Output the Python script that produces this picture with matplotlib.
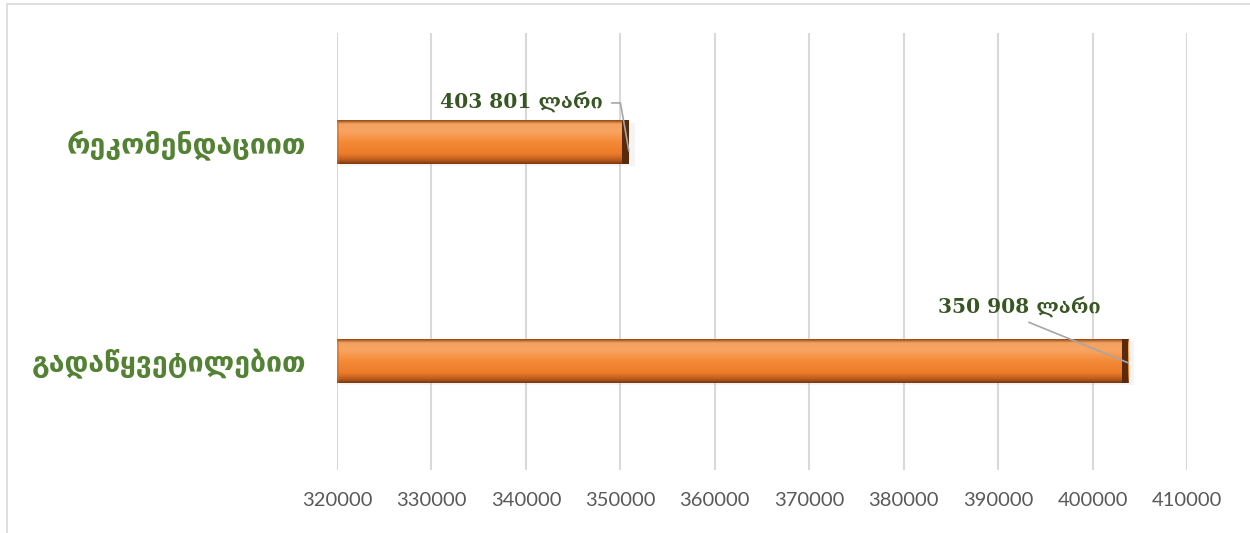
import matplotlib.pyplot as plt
import numpy as np
from matplotlib.colors import LinearSegmentedColormap
from matplotlib.patches import Rectangle

# bar values (GEL) and the labels printed next to them
CATEGORIES = ['გადაწყვეტილებით', 'რეკომენდაციით']
VALUES = [403801, 350908]
VALUE_LABELS = ['350 908 ლარი', '403 801 ლარი']
XTICKS = [320000, 330000, 340000, 350000, 360000, 370000, 380000, 390000, 400000, 410000]

plt.rcParams['font.family'] = ['DejaVu Sans']

# orange cylinder look: dark rim, light highlight, darker underside
bar_cmap = LinearSegmentedColormap.from_list('bar', [
    (0.00, '#9a4a16'),
    (0.08, '#f3a25f'),
    (0.25, '#f9a462'),
    (0.50, '#f58a36'),
    (0.78, '#ea7b2a'),
    (0.92, '#b8591c'),
    (1.00, '#7a3a12'),
])


def draw_chart():
    fig = plt.figure(figsize=(12.5, 5.33), dpi=100)
    ax = fig.add_axes([0.2696, 0.1182, 0.68, 0.82])

    # thin frame of the chart area
    fig.patches.append(Rectangle((0.0056, -0.02), 1.1, 0.9925 + 0.02, transform=fig.transFigure,
                                 fill=False, edgecolor='#d9d9d9', linewidth=1.2))

    ypos = np.arange(len(CATEGORIES))
    height = 0.2
    ax.set_xlim(XTICKS[0], XTICKS[-1])
    ax.set_ylim(-0.5, 1.5)

    grad = np.linspace(0, 1, 64).reshape(-1, 1)
    for y, v in zip(ypos, VALUES):
        bar = ax.barh(y, v - XTICKS[0], left=XTICKS[0], height=height,
                      color='none', edgecolor='none', zorder=3)[0]
        # soft shadow to the right/below
        ax.add_patch(Rectangle((XTICKS[0] + 300, y - height / 2 - 0.01), v - XTICKS[0] + 300, height,
                               facecolor='#bbbbbb', alpha=0.15, edgecolor='none', zorder=2))
        im = ax.imshow(grad, cmap=bar_cmap, aspect='auto', zorder=3,
                       extent=(XTICKS[0], v, y - height / 2, y + height / 2), origin='upper')
        im.set_clip_path(bar)
        # dark end cap
        ax.add_patch(Rectangle((v - 700, y - height / 2), 700, height,
                               facecolor='#5a2a0c', edgecolor='none', zorder=4))
        ax.add_patch(Rectangle((XTICKS[0], y - height / 2), 250, height,
                               facecolor='#c96a25', alpha=0.5, edgecolor='none', zorder=4))

    ax.set_xticks(XTICKS)
    ax.set_xticklabels([str(t) for t in XTICKS], fontsize=14.5, color='#595959',
                       family=['Lato', 'DejaVu Sans'])
    ax.tick_params(axis='x', length=0, pad=16)
    ax.set_yticks(ypos)
    ax.set_yticklabels(CATEGORIES, fontsize=20.5, fontweight='bold', color='#548235',
                       family=['DejaVu Sans'])
    ax.tick_params(axis='y', length=0, pad=22)
    ax.grid(axis='x', color='#d9d9d9', linewidth=1.5, zorder=0)
    ax.set_axisbelow(True)
    for s in ax.spines.values():
        s.set_visible(False)

    # value labels with leader lines
    ax.annotate(VALUE_LABELS[0], xy=(VALUES[0], ypos[0] - 0.01), xytext=(-109, 55),
                textcoords='offset pixels', ha='center', va='center', zorder=6,
                fontsize=14.5, fontweight='bold', color='#375623',
                family=['DejaVu Serif', 'DejaVu Sans'],
                arrowprops=dict(arrowstyle='-', color='#a6a6a6', lw=1.2,
                                relpos=(0.5, 0), shrinkA=2, shrinkB=0))
    ax.annotate(VALUE_LABELS[1], xy=(VALUES[1], ypos[1] - 0.04), xytext=(-107, 48),
                textcoords='offset pixels', ha='center', va='center', zorder=6,
                fontsize=14.5, fontweight='bold', color='#375623',
                family=['DejaVu Serif', 'DejaVu Sans'],
                arrowprops=dict(arrowstyle='-', color='#a6a6a6', lw=1.2, relpos=(1, 0.5),
                                shrinkA=4, shrinkB=0,
                                connectionstyle='angle,angleA=0,angleB=100,rad=0'))

    fig.savefig('out.png', dpi=100, facecolor='white')


if __name__ == '__main__':
    draw_chart()
